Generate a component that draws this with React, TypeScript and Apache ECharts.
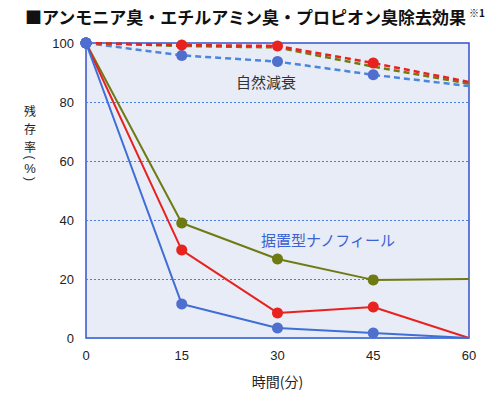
import React, { useEffect, useRef } from "react";
import * as echarts from "echarts";

const times = ["0", "15", "30", "45", "60"];
const yTicks = [0, 20, 40, 60, 80, 100];
const naturalOlive = [100, 99, 98.5, 92, 86.2];
const naturalRed = [100, 99.3, 99, 93.2, 86.8];
const naturalBlue = [100, 95.8, 93.7, 89.2, 85.4];
const nanoOlive = [100, 39, 26.8, 19.7, 20];
const nanoRed = [100, 29.8, 8.5, 10.5, 0];
const nanoBlue = [100, 11.5, 3.4, 1.7, 0];
const titleText = "■アンモニア臭・エチルアミン臭・プロピオン臭除去効果";
const noteText = "※1";
const labelNatural = "自然減衰";
const labelNano = "据置型ナノフィール";
const yNameChars = ["残", "存", "率", "(", "%", ")"];
const xName = "時間(分)";

const RED = "#e8231f";
const OLIVE = "#6e7a12";
const BLUE = "#3f6fd6";
const DOT_BLUE = "#4f6fcf";

function mkData(vals: number[], dotColor: string, noDotIdx: number[]) {
  return vals.map((v, i) => ({
    value: v,
    symbol: noDotIdx.includes(i) ? "none" : "circle",
    itemStyle: { color: i === 0 ? DOT_BLUE : dotColor },
  }));
}

export default function App() {
  const ref = useRef<HTMLDivElement>(null);
  useEffect(() => {
    const chart = echarts.init(ref.current!, null, { renderer: "svg" });
    const font = "'Noto Sans CJK JP', 'Noto Sans', sans-serif";
    const lineSeries = (
      name: string,
      vals: number[],
      color: string,
      dashed: boolean,
      noDot: number[],
      z: number
    ) => ({
      name,
      type: "line",
      data: mkData(vals, color === BLUE || color === "#4a86dc" ? DOT_BLUE : color, noDot),
      symbolSize: 11,
      z,
      lineStyle: {
        color,
        width: dashed ? 2.5 : 2,
        type: dashed ? [6, 4] : "solid",
      },
    });
    const yNameY = [110, 128, 146, 157.5, 168, 179];
    const yNameGraphics = yNameChars.map((ch, i) => {
      const paren = ch === "(" || ch === ")";
      return {
        type: "text",
        x: 30,
        y: yNameY[i],
        rotation: paren ? -Math.PI / 2 : 0,
        style: {
          text: ch,
          fontSize: paren ? 12 : ch === "%" ? 13 : 12,
          fill: "#222",
          align: "center",
          verticalAlign: "middle",
          fontFamily: paren || ch === "%" ? "Liberation Sans, Arial, sans-serif" : font,
        },
      };
    });
    chart.setOption({
      animation: false,
      textStyle: { fontFamily: font },
      title: {
        text: `${titleText}{sup|${noteText}}`,
        left: 20,
        top: 2,
        textStyle: {
          fontSize: 17,
          fontWeight: "bold",
          color: "#111",
          fontFamily: font,
          rich: {
            sup: { fontSize: 10, color: "#111", verticalAlign: "top", padding: [0, 0, 8, 2], fontFamily: font },
          },
        },
      },
      grid: {
        left: 86,
        right: 31,
        top: 43,
        bottom: 60,
        show: true,
        backgroundColor: "#e8ecf7",
        borderColor: "#3552cc",
        borderWidth: 1.5,
      },
      xAxis: {
        type: "category",
        data: times,
        boundaryGap: false,
        name: xName,
        nameLocation: "middle",
        nameGap: 36,
        nameTextStyle: { fontSize: 14, color: "#222", fontFamily: font },
        axisLine: { show: false },
        axisTick: { show: false },
        axisLabel: { fontSize: 13, color: "#222", margin: 11, fontFamily: "Liberation Sans, Arial, sans-serif" },
        splitLine: { show: false },
      },
      yAxis: {
        type: "value",
        min: yTicks[0],
        max: yTicks[yTicks.length - 1],
        interval: 20,
        axisLine: { show: false },
        axisTick: { show: false },
        axisLabel: { fontSize: 13, color: "#222", margin: 12, fontFamily: "Liberation Sans, Arial, sans-serif" },
        splitLine: { show: true, lineStyle: { color: "#4a7fe0", type: [2, 2], width: 1 } },
      },
      series: [
        lineSeries("natBlue", naturalBlue, "#4a86dc", true, [4], 2),
        lineSeries("natOlive", naturalOlive, OLIVE, true, [1, 2, 3, 4], 3),
        lineSeries("natRed", naturalRed, RED, true, [4], 4),
        lineSeries("nanoOlive", nanoOlive, OLIVE, false, [4], 5),
        lineSeries("nanoRed", nanoRed, RED, false, [4], 6),
        lineSeries("nanoBlue", nanoBlue, BLUE, false, [4], 7),
      ],
      graphic: [
        ...yNameGraphics,
        {
          type: "text",
          x: 266,
          y: 81,
          style: { text: labelNatural, fontSize: 15, fill: "#333", align: "center", verticalAlign: "middle", fontFamily: font },
          z: 10,
        },
        {
          type: "text",
          x: 328,
          y: 239,
          style: { text: labelNano, fontSize: 15, fill: "#3a62d0", align: "center", verticalAlign: "middle", fontFamily: font },
          z: 10,
        },
      ],
    });
    return () => chart.dispose();
  }, []);
  return <div ref={ref} style={{ width: 500, height: 398, position: "absolute", left: 0, top: 0, background: "#fff" }} />;
}
